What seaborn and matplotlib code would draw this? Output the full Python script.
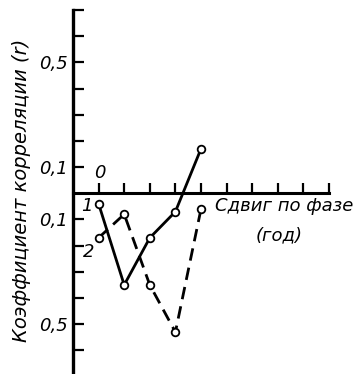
import matplotlib
matplotlib.use("Agg")
import matplotlib.pyplot as plt
from matplotlib.ticker import FixedLocator, FixedFormatter
import seaborn as sns
import pandas as pd

# Phase shift (years) and correlation coefficients for the two series
shift_years = [0, 1, 2, 3, 4]
series_1 = [-0.04, -0.35, -0.17, -0.07, 0.17]
series_2 = [-0.17, -0.08, -0.35, -0.53, -0.06]

y_tick_values = [-0.6, -0.5, -0.4, -0.3, -0.2, -0.1, 0.1, 0.2, 0.3, 0.4, 0.5, 0.6, 0.7]
y_tick_labels = ["", "0,5", "", "", "", "0,1", "0,1", "", "", "", "0,5", "", ""]
x_tick_values = [0, 1, 2, 3, 4, 5, 6, 7, 8, 9]

y_label = "Коэффициент корреляции (r)"
x_label_line1 = "Сдвиг по фазе"
x_label_line2 = "(год)"

sns.set_style("white")
plt.rcParams["font.family"] = ["DejaVu Sans"]
plt.rcParams["font.style"] = "italic"
plt.rcParams["text.color"] = "black"
plt.rcParams["axes.labelcolor"] = "black"
plt.rcParams["ytick.color"] = "black"
plt.rcParams["xtick.color"] = "black"

df = pd.concat([
    pd.DataFrame({"shift": shift_years, "r": series_1, "curve": "1"}),
    pd.DataFrame({"shift": shift_years, "r": series_2, "curve": "2"}),
])

fig = plt.figure(figsize=(3.62, 3.74), dpi=100)
ax = fig.add_axes([73 / 362, 0.0, 256 / 362, 364 / 374])

sns.lineplot(data=df[df.curve == "1"], x="shift", y="r", ax=ax, color="black",
             lw=2.0, marker="o", markersize=5.5, markerfacecolor="white",
             markeredgecolor="black", markeredgewidth=1.3, legend=False, zorder=3)
sns.lineplot(data=df[df.curve == "2"], x="shift", y="r", ax=ax, color="black",
             lw=2.0, marker="o", markersize=5.5, markerfacecolor="white",
             markeredgecolor="black", markeredgewidth=1.3, legend=False, zorder=3,
             dashes=False, linestyle=(0, (4.5, 2.6)))

ax.set_xlim(-1, 9)
ax.set_ylim(-0.69, 0.7)

for side in ("top", "right"):
    ax.spines[side].set_visible(False)
ax.spines["bottom"].set_position(("data", 0))
ax.spines["left"].set_linewidth(2.4)
ax.spines["bottom"].set_linewidth(2.2)
ax.spines["left"].set_color("black")
ax.spines["bottom"].set_color("black")

ax.xaxis.set_major_locator(FixedLocator(x_tick_values))
ax.xaxis.set_major_formatter(FixedFormatter([""] * len(x_tick_values)))
ax.tick_params(axis="x", bottom=True, direction="in", length=7, width=1.6,
               color="black")

ax.yaxis.set_major_locator(FixedLocator(y_tick_values))
ax.yaxis.set_major_formatter(FixedFormatter(y_tick_labels))
ax.tick_params(axis="y", left=True, direction="in", length=8, width=1.6,
               color="black", labelcolor="black", labelsize=13, pad=4)
for lbl in ax.get_yticklabels():
    lbl.set_fontstyle("italic")

ax.set_xlabel("")
ax.set_ylabel(y_label, fontsize=14, fontstyle="italic", color="black")
ax.yaxis.set_label_coords(-0.165, 0.505)

ax.text(0.05, 0.078, "0", fontsize=13, fontstyle="italic", ha="center", va="center")
ax.text(-0.45, -0.047, "1", fontsize=13, fontstyle="italic", ha="center", va="center")
ax.text(-0.4, -0.225, "2", fontsize=13, fontstyle="italic", ha="center", va="center")
ax.text(4.55, -0.05, x_label_line1, fontsize=13, fontstyle="italic", ha="left", va="center")
ax.text(7.05, -0.16, x_label_line2, fontsize=13, fontstyle="italic", ha="center", va="center")

fig.savefig("out.png", dpi=100)
